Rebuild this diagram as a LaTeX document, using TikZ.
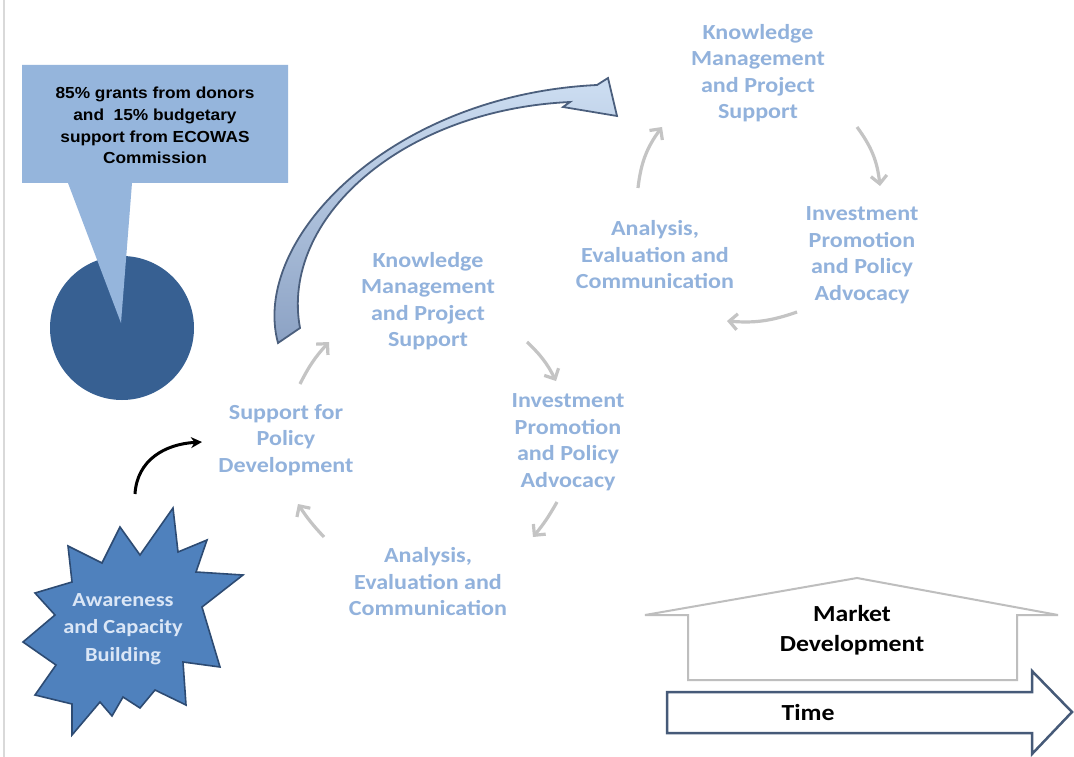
\documentclass[tikz,border=0pt]{standalone}
\usepackage{fontspec}
\newfontfamily\calfont[FakeStretch=1.12]{Carlito}
\newfontfamily\arifont[FakeStretch=1.08]{Liberation Sans}
\usetikzlibrary{arrows.meta}
\definecolor{cyc}{RGB}{146,178,220}
\definecolor{callfill}{RGB}{149,181,220}
\definecolor{piecol}{RGB}{55,96,146}
\definecolor{starfill}{RGB}{79,129,189}
\definecolor{starline}{RGB}{45,75,115}
\definecolor{startext}{RGB}{218,230,246}
\definecolor{arrline}{RGB}{75,95,125}
\definecolor{arrtop}{RGB}{205,222,242}
\definecolor{arrbot}{RGB}{140,162,196}
\definecolor{cycarrcol}{RGB}{196,196,196}
\definecolor{housecol}{RGB}{190,190,190}
\definecolor{timecol}{RGB}{70,90,120}
\tikzset{
  cyctext/.style={font=\calfont\bfseries\fontsize{21.5}{26.5}\selectfont, text=cyc, align=center, inner sep=0pt},
  cycarr/.style={draw=cycarrcol, line width=3.2pt, -{Straight Barb[length=8pt,width=16pt,line width=3.2pt]}},
  blackarr/.style={draw=black, line width=3pt, -{Stealth[length=11pt,width=11pt]}},
  darktext/.style={font=\calfont\bfseries\fontsize{23}{30}\selectfont, text=black, align=center, inner sep=0pt},
}
\begin{document}
\begin{tikzpicture}[x=1pt,y=-1pt]
\useasboundingbox (0,0) rectangle (1074,757);
\fill[white] (0,0) rectangle (1074,757);
\draw[gray!30, line width=2pt] (4,0) -- (4,757);

% pie
\node[circle, fill=piecol, minimum size=144pt, inner sep=0pt] (pie) at (122,328) {};
% callout
\fill[callfill] (22,65) -- (288,65) -- (288,183) -- (132,183) -- (121,323) -- (68,183) -- (22,183) -- cycle;
\node[font=\arifont\bfseries\fontsize{16}{21.7}\selectfont, align=center, inner sep=0pt] (callt) at (155,125.5)
  {85\% grants from donors\\and\ \ 15\% budgetary\\support from ECOWAS\\Commission};

% big curved arrow
\draw[arrline, line width=1.8pt, top color=arrtop, bottom color=arrbot]
  (278,343) .. controls (250,240) and (390,95) .. (597,85)
  -- (608,78) -- (617,116) -- (563,107) -- (570,102)
  .. controls (400,110) and (280,220) .. (300,328) -- cycle;

% star
\fill[starfill, draw=starline, line width=1.6pt, line join=miter]
  (173,508) -- (178,552) -- (207,540) -- (196,572) -- (243,575) -- (202,607)
  -- (220,667) -- (183,662) -- (186,705) -- (155,690) -- (140,708) -- (123,697)
  -- (112,716) -- (100,702) -- (72,735) -- (72,704) -- (35,695) -- (56,665)
  -- (23,642) -- (55,615) -- (35,593) -- (72,582) -- (68,546) -- (102,563)
  -- (120,527) -- (140,555) -- cycle;
\node[font=\calfont\bfseries\fontsize{20}{27.5}\selectfont, text=startext, align=center, inner sep=0pt] (awar) at (123,629)
  {Awareness\\and Capacity\\Building};

% black arrow
\coordinate (ba1) at (135,494);
\coordinate (ba2) at (202,442);
\draw[blackarr] (ba1) .. controls (137,460) and (165,444) .. (ba2);

% lower cycle
\node[cyctext] (kmb) at (428,301) {Knowledge\\Management\\and Project\\Support};
\node[cyctext] (ipb) at (568,442) {Investment\\Promotion\\and Policy\\Advocacy};
\node[cyctext] (aeb) at (428,582) {Analysis,\\Evaluation and\\Communication};
\node[cyctext] (spd) at (286,440) {Support for\\Policy\\Development};
\coordinate (l1a) at (300,384); \coordinate (l1b) at (329,342);
\coordinate (l2a) at (527,342); \coordinate (l2b) at (556,381);
\coordinate (l3a) at (557,502); \coordinate (l3b) at (533,537);
\coordinate (l4a) at (324,537); \coordinate (l4b) at (298,504);
\draw[cycarr] (l1a) to[bend left=8] (l1b);
\draw[cycarr] (l2a) to[bend left=10] (l2b);
\draw[cycarr] (l3a) to[bend left=5] (l3b);
\draw[cycarr] (l4a) to[bend left=5] (l4b);

% upper cycle
\node[cyctext] (kmt) at (758,73) {Knowledge\\Management\\and Project\\Support};
\node[cyctext] (ipt) at (862,255) {Investment\\Promotion\\and Policy\\Advocacy};
\node[cyctext] (aet) at (655,255) {Analysis,\\Evaluation and\\Communication};
\coordinate (u1a) at (638,188); \coordinate (u1b) at (662,127);
\coordinate (u2a) at (857,127); \coordinate (u2b) at (880,186);
\coordinate (u3a) at (797,312); \coordinate (u3b) at (727,321);
\draw[cycarr] (u1a) to[bend left=15] (u1b);
\draw[cycarr] (u2a) to[bend left=15] (u2b);
\draw[cycarr] (u3a) to[bend left=12] (u3b);

% market development house
\draw[housecol, line width=2pt, line join=miter] (688,680) -- (688,615) -- (645,615) -- (857,578)
  -- (1058,615) -- (1017,615) -- (1017,680) -- cycle;
\node[darktext] (market) at (852,630) {Market\\Development};

% time arrow
\draw[timecol, line width=2.5pt, fill=white, line join=miter] (667,692) -- (1032,692) -- (1032,671) -- (1072,712)
  -- (1032,754) -- (1032,733) -- (667,733) -- cycle;
\node[darktext] (time) at (808,713) {Time};
\end{tikzpicture}
\end{document}
